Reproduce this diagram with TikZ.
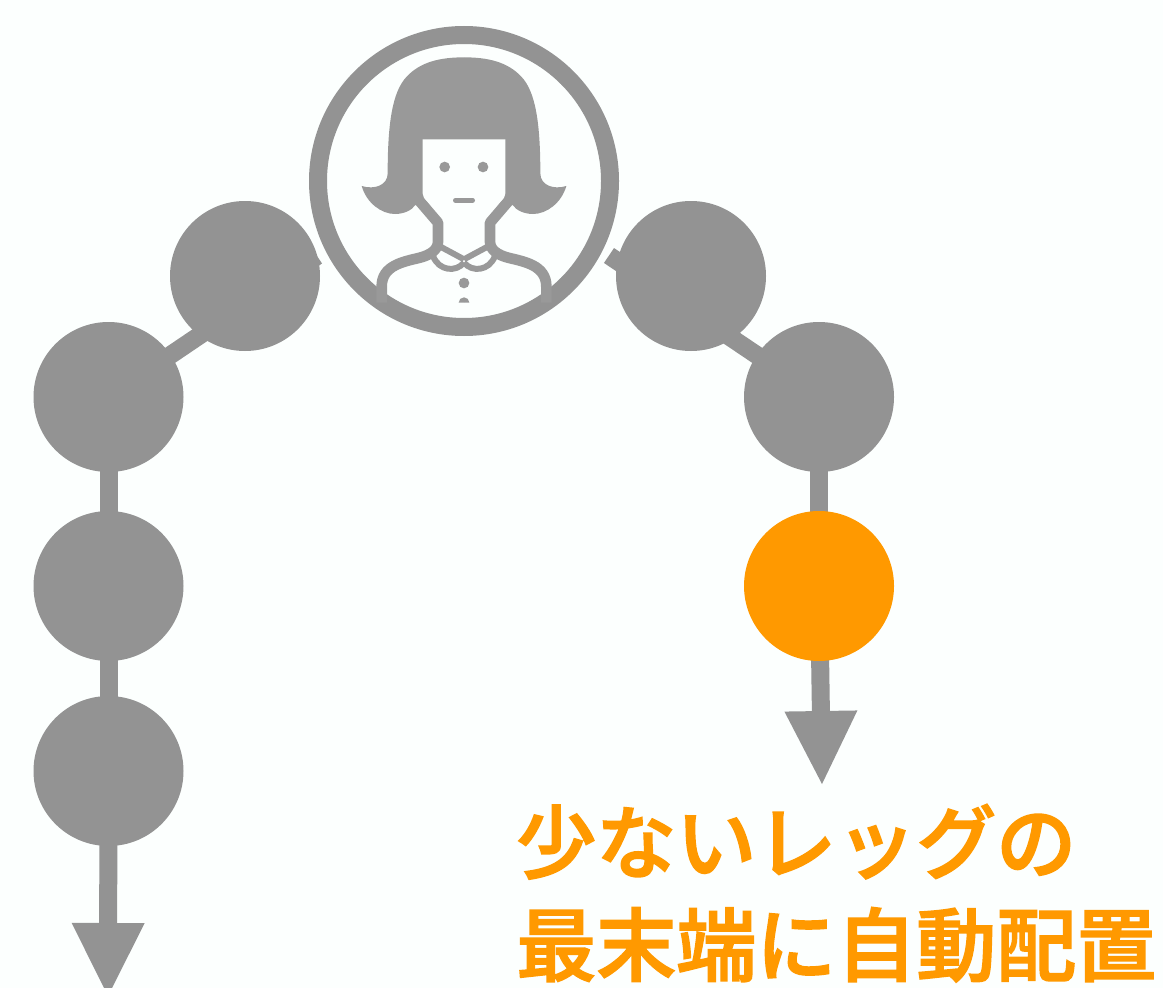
\documentclass[tikz,border=0pt]{standalone}
\usepackage{fontspec}
\newfontfamily\cjkfont{Noto Sans CJK JP}[UprightFont=* Medium, FakeBold=2]
\usepackage{tikz}
\usetikzlibrary{arrows.meta,positioning,backgrounds}
\definecolor{legcol}{HTML}{939393}
\definecolor{haircol}{HTML}{999999}
\definecolor{lastcol}{HTML}{FF9900}
\definecolor{paper}{HTML}{FCFFFE}
\tikzset{
  joint/.style={circle, draw=none, fill=legcol, minimum size=112.5pt, inner sep=0pt, outer sep=0pt},
  bar/.style={draw=legcol, line width=13.5pt},
  arr/.style={bar, -{Triangle[length=54.75pt, width=54.75pt, line width=0pt]}}
}

\begin{document}
\begin{tikzpicture}[
  x=0.75pt, y=-0.75pt,
  lastjoint/.style={joint, fill=lastcol},
  ring/.style={circle, draw=legcol, fill=none, line width=13.5pt, minimum size=219pt, inner sep=0pt, outer sep=0pt},
  outline/.style={draw=haircol, line width=8pt, line join=round},
  thin line/.style={draw=haircol, line width=4.5pt, line join=round},
  note/.style={font=\cjkfont\fontsize{60}{77}\selectfont, text=lastcol, align=left, inner sep=0pt, anchor=base west}
]
\useasboundingbox (0,0) rectangle (1163,988);

% Left leg
\node[joint] (l1) at (245,276) {};
\node[joint] (l2) at (108.5,397) {};
\node[joint, below=29.25pt of l2] (l3) {};
\node[joint, below=26.25pt of l3] (l4) {};
\coordinate (lstub) at (317,256);
\coordinate (lend) at (108,996);

% Right leg, last joint in orange
\node[joint] (r1) at (691,276) {};
\node[joint] (r2) at (819,397) {};
\node[lastjoint, below=29.25pt of r2] (r3) {};
\coordinate (rstub) at (609,255.5);
\coordinate (rend) at (822,784);

% Body
\node[ring] (head) at (464,181) {};

% Edges go under the joints
\begin{scope}[on background layer]
\fill[paper] (0,0) rectangle (1163,988);
\draw[bar] (l2.center) -- (lstub);
\draw[bar] (l2.center) -- (l3.center);
\draw[bar] (l3.center) -- (l4.center);
\draw[arr] (l4.center) -- (lend);
\draw[bar] (r2.center) -- (rstub);
\draw[bar] (r2.center) -- (r3.center);
\draw[arr] (r3.center) -- (rend);
\end{scope}

% Portrait, both halves mirrored round the middle of the face
\foreach \side in {1,-1} {
\begin{scope}[shift={(464,30)}, x=0.25pt, y=-0.25pt, xscale=\side]
\fill[haircol] (0,82) .. controls (-70,82) and (-130,95) .. (-172,140)
  .. controls (-215,185) and (-229,280) .. (-229,430)
  .. controls (-229,465) and (-267,480) .. (-307,468)
  .. controls (-292,520) and (-247,552) .. (-207,552)
  .. controls (-182,552) and (-157,542) .. (-146,525) -- (0,525) -- cycle;
\fill[paper] (0,328) -- (-124,328) -- (-124,490) -- (-120,505) -- (-66,568) -- (-62,575) -- (0,575) -- cycle;
\draw[outline] (-150,494) -- (-78,578) -- (-78,635)
  .. controls (-78,660) and (-102,675) .. (-132,683)
  .. controls (-180,695) and (-247,705) .. (-247,770) -- (-247,818);
\draw[thin line] (-67,652) -- (0,688);
\draw[thin line] (-92,680) .. controls (-75,722) and (-25,728) .. (0,698);
\fill[haircol] (-16,818) arc (180:270:16) -- (0,818) -- cycle;
\end{scope}
}
\begin{scope}[shift={(464,30)}, x=0.25pt, y=-0.25pt]
\fill[haircol] (-58,411) circle (4pt);
\fill[haircol] (57,411) circle (4pt);
\fill[haircol] (0,759) circle (4pt);
\draw[haircol, line width=3.5pt, line cap=round] (-26,511) -- (26,511);
\end{scope}

% Caption
\node[note] (cap) at (516,975) {少ないレッグの\\最末端に自動配置};

\end{tikzpicture}
\end{document}
